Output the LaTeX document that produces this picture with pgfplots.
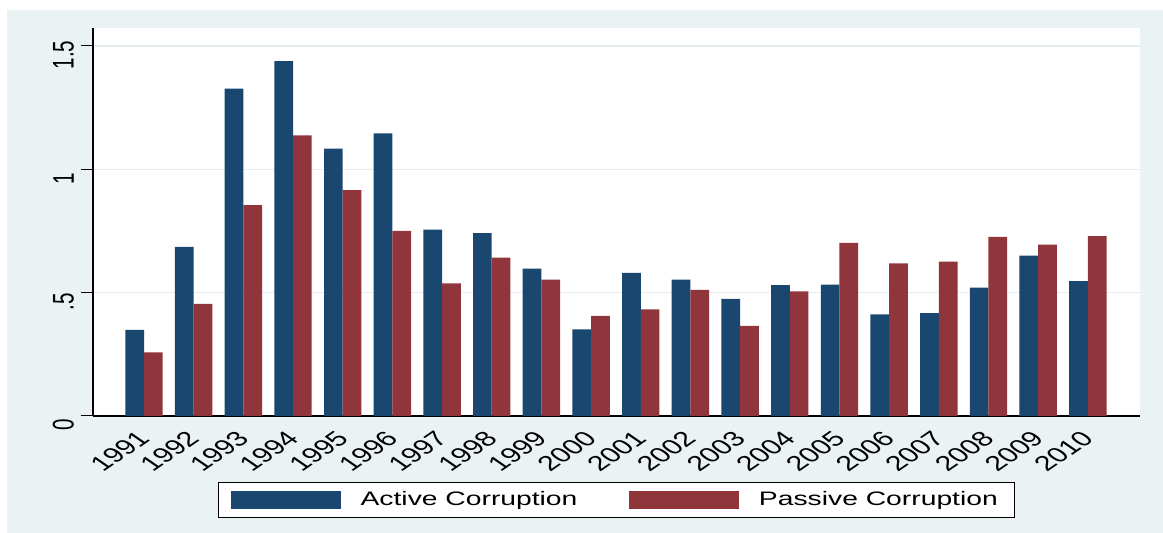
\documentclass[border=0pt]{standalone}
\usepackage{pgfplots}
\usepackage{pgfplotstable}
\pgfplotsset{compat=1.18}
\usepackage{fontspec}
\setmainfont{Liberation Sans}[FakeStretch=1.45]
\newfontfamily\plainfont{Liberation Sans}
\definecolor{stbg}{RGB}{234,242,243}
\definecolor{stgrid}{RGB}{228,236,238}
\definecolor{stblue}{RGB}{26,71,111}
\definecolor{stred}{RGB}{144,53,59}
% stretched look of the original (image was widened)
\newcommand{\ylab}[1]{\scalebox{1}[1.45]{#1}}

\pgfplotstableread{
idx year active passive
0  1991 0.349 0.258
1  1992 0.686 0.455
2  1993 1.327 0.855
3  1994 1.439 1.138
4  1995 1.084 0.916
5  1996 1.146 0.750
6  1997 0.756 0.538
7  1998 0.741 0.642
8  1999 0.597 0.553
9  2000 0.351 0.406
10 2001 0.580 0.432
11 2002 0.553 0.511
12 2003 0.475 0.365
13 2004 0.531 0.505
14 2005 0.533 0.702
15 2006 0.412 0.619
16 2007 0.417 0.626
17 2008 0.520 0.726
18 2009 0.650 0.695
19 2010 0.547 0.729
}\corruption

\begin{document}
\begin{tikzpicture}
\fill[white] (-46.5pt,-58.5pt) rectangle (535pt,208pt);
\fill[stbg] (-43pt,-58.5pt) rectangle (535pt,203pt);
\begin{axis}[
    scale only axis,
    width=523.5pt, height=194pt,
    xmin=-1.027, xmax=20.05,
    ymin=0, ymax=1.573,
    axis background/.style={fill=white},
    axis x line*=bottom, axis y line*=left,
    axis line style={-, line width=0.75pt, black},
    ybar=0pt, bar width=9.35pt,
    xtick={0,...,19},
    xticklabels={1991,1992,1993,1994,1995,1996,1997,1998,1999,2000,
                 2001,2002,2003,2004,2005,2006,2007,2008,2009,2010},
    xtick style={draw=none},
    xticklabel style={font=\plainfont\fontsize{10.5}{12}\selectfont,
        anchor=north east, inner sep=1pt, xshift=-4pt, yshift=1pt,
        cm={1.025,0.707,-1.025,0.707,(0,0)}},
    ytick={0,0.5,1,1.5},
    yticklabels={\ylab{0},\ylab{.5},\ylab{1},\ylab{1.5}},
    yticklabel style={font=\plainfont\fontsize{10.3}{12}\selectfont,
        rotate=90, anchor=south, xshift=-4.5pt},
    ytick pos=left,
    tick align=outside,
    major tick length=6pt,
    ytick style={black, line width=0.5pt},
    ymajorgrids,
    major grid style={stgrid, line width=0.6pt},
    legend style={at={(0.5,0)}, anchor=north, yshift=-33pt,
        draw=black, line width=0.5pt, fill=white,
        legend columns=2, inner xsep=6.5pt, inner ysep=2.5pt,
        font=\fontsize{9.75}{11}\selectfont,
        /tikz/every even column/.append style={column sep=24pt}},
]
\addplot[fill=stblue, draw=none,
    legend image code/.code={\fill[stblue] (0pt,-4.5pt) rectangle (55pt,4.5pt);
        \path (62.75pt,0pt);}]
    table[x=idx, y=active] {\corruption};
\addplot[fill=stred, draw=none,
    legend image code/.code={\fill[stred] (0pt,-4.5pt) rectangle (55pt,4.5pt);
        \path (62.75pt,0pt);}]
    table[x=idx, y=passive] {\corruption};
\legend{Active Corruption, Passive Corruption\hspace{9.5pt}}
\end{axis}
\end{tikzpicture}
\end{document}
